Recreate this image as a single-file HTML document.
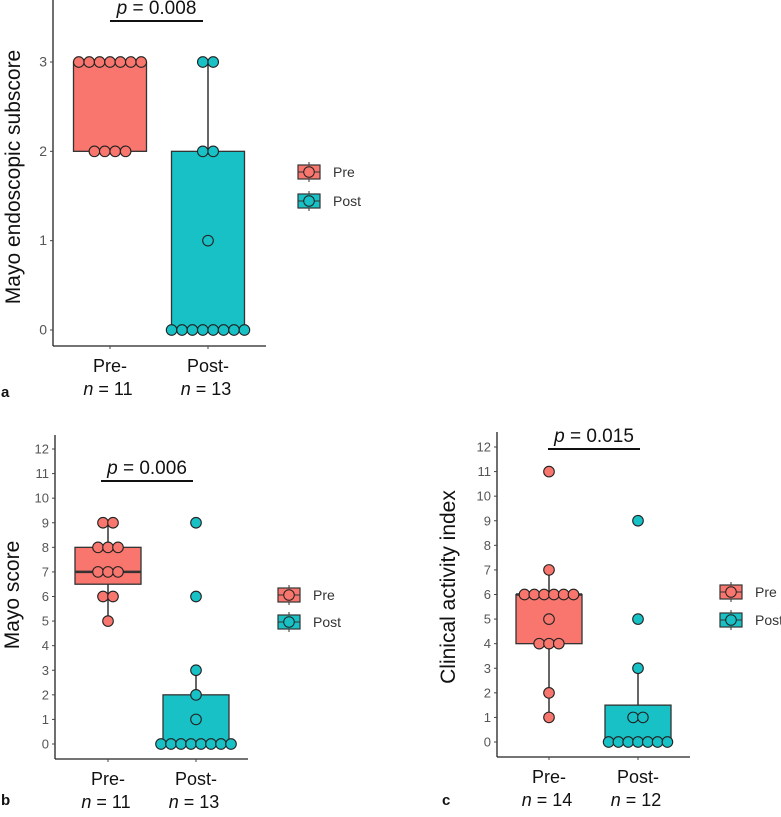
<!DOCTYPE html>
<html><head><meta charset="utf-8"><style>
body{margin:0;background:#fff;width:781px;height:812px;overflow:hidden;font-family:"Liberation Sans",sans-serif}
svg text{font-family:"Liberation Sans",sans-serif}
</style></head><body>
<svg id="s" width="781" height="812" xmlns="http://www.w3.org/2000/svg"></svg>
<script>
// Panel a data
const aTicks=[0,1,2,3];
const aCats=["Pre-","Post-"];
const aN=["n = 11","n = 13"];
const aBoxes=[{lo:2,q1:2,med:3,q3:3,hi:3},{lo:0,q1:0,med:0,q3:2,hi:3}];
const aPre=[[3,7],[2,4]];
const aPost=[[3,2],[2,2],[1,1],[0,8]];
// Panel b data
const bTicks=[0,1,2,3,4,5,6,7,8,9,10,11,12];
const bN=["n = 11","n = 13"];
const bBoxes=[{lo:5,q1:6.5,med:7,q3:8,hi:9},{lo:0,q1:0,med:0,q3:2,hi:3}];
const bPre=[[9,2],[8,3],[7,3],[6,2],[5,1]];
const bPost=[[9,1],[6,1],[3,1],[2,1],[1,1],[0,8]];
// Panel c data
const cTicks=[0,1,2,3,4,5,6,7,8,9,10,11,12];
const cN=["n = 14","n = 12"];
const cBoxes=[{lo:1,q1:4,med:6,q3:6,hi:7},{lo:0,q1:0,med:0,q3:1.5,hi:3}];
const cPre=[[11,1],[7,1],[6,6],[5,1],[4,3],[2,1],[1,1]];
const cPost=[[9,1],[5,1],[3,1],[1,2],[0,7]];

const S=document.getElementById('s');
const NS='http://www.w3.org/2000/svg';
function el(t,a,txt){const e=document.createElementNS(NS,t);for(const k in a)e.setAttribute(k,a[k]);if(txt!==undefined)e.textContent=txt;S.appendChild(e);return e;}
const COL=['#F8766D','#17C1C5'];

function panel(P){
  const y=v=>P.y0+(P.yTop-P.y0)*(v-P.tmin)/(P.tmax-P.tmin);
  const xc=i=>P.cx[i];
  let e;
  e=el('line',{x1:P.ax,y1:P.axTop,x2:P.ax,y2:P.axB,stroke:'#222','stroke-width':1.3});
  
  
  e=el('line',{x1:P.ax,y1:P.axB,x2:P.axR,y2:P.axB,stroke:'#222','stroke-width':1.3});
  
  
  P.ticks.forEach(t=>{
    e=el('line',{x1:P.ax-3,y1:y(t),x2:P.ax,y2:y(t),stroke:'#444','stroke-width':1});
    
    
    e=el('text',{x:P.ax-6,y:y(t)+4.5,'text-anchor':'end','font-size':P.tfs,fill:'#555'},String(t));
    
    
  });
  P.cats.forEach((c,i)=>{
    e=el('line',{x1:xc(i),y1:P.axB,x2:xc(i),y2:P.axB+3,stroke:'#444'});
    
    
    e=el('text',{x:xc(i),y:P.axB+26,'text-anchor':'middle','font-size':18,fill:'#111'},c);
    
    
    e=el('text',{x:xc(i)-2,y:P.axB+49,'text-anchor':'middle','font-size':18,fill:'#111'});
    
    
    e.innerHTML='<tspan font-style="italic">n</tspan>'+P.n[i].slice(1);
  });
  P.boxes.forEach((b,i)=>{
    const hw=P.bw/2;
    e=el('line',{x1:xc(i),y1:y(b.lo),x2:xc(i),y2:y(b.hi),stroke:'#333','stroke-width':1.5});
    
    
    e=el('rect',{x:xc(i)-hw,y:y(b.q3),width:P.bw,height:Math.max(0.5,y(b.q1)-y(b.q3)),fill:COL[i],stroke:'#333','stroke-width':1.3});
    
    
    e=el('line',{x1:xc(i)-hw,y1:y(b.med),x2:xc(i)+hw,y2:y(b.med),stroke:'#333','stroke-width':2.5});
    
    
  });
  [P.pre,P.post].forEach((g,i)=>{
    g.forEach(([v,cnt])=>{
      for(let k=0;k<cnt;k++){
        const dx=(k-(cnt-1)/2)*P.dsp;
        e=el('circle',{cx:xc(i)+dx,cy:y(v),r:5.3,fill:COL[i],stroke:'#222','stroke-width':1.1});
        
        
      }
    });
  });
  e=el('line',{x1:P.px1,y1:P.py,x2:P.px2,y2:P.py,stroke:'#111','stroke-width':2});
  
  
  e=el('text',{x:(P.px1+P.px2)/2,y:P.py-7,'text-anchor':'middle','font-size':19,fill:'#111'});
  
  
  e.innerHTML='<tspan font-style="italic">p</tspan> = '+P.p;
  e=el('text',{x:P.ylx,y:P.yly,'text-anchor':'middle','font-size':P.ylfs,fill:'#111',transform:`rotate(-90 ${P.ylx} ${P.yly})`},P.ylab);
  
  
  ['Pre','Post'].forEach((l,i)=>{
    const cy=P.ly[i];
    e=el('line',{x1:P.lx+11,y1:cy-10,x2:P.lx+11,y2:cy+10,stroke:'#333'});
    
    
    e=el('rect',{x:P.lx,y:cy-7,width:22,height:14,fill:COL[i],stroke:'#333','stroke-width':1.2});
    
    
    e=el('line',{x1:P.lx,y1:cy,x2:P.lx+22,y2:cy,stroke:'#333'});
    e=el('circle',{cx:P.lx+11,cy:cy,r:5.3,fill:COL[i],stroke:'#222'});
    
    
    e=el('text',{x:P.lx+35,y:cy+5,'font-size':14,fill:'#333'},l);
    
    
  });
  e=el('text',{x:P.tagx,y:P.tagy,'font-size':15,'font-weight':'bold',fill:'#111'},P.tag);
  
  
}

panel({ticks:aTicks,tmin:0,tmax:3,y0:330,yTop:62,ax:53,axTop:0,axB:346,axR:266,tfs:14,cats:aCats,n:aN,cx:[110,208],
  boxes:aBoxes,bw:73,pre:aPre,post:aPost,dsp:10.4,px1:110,px2:203,py:21,p:'0.008',
  ylab:'Mayo endoscopic subscore',ylx:20,yly:177,ylfs:21,lx:298,ly:[172,201],tag:'a',tagx:1,tagy:397});
panel({ticks:bTicks,tmin:0,tmax:12,y0:744,yTop:449,ax:55,axTop:435,axB:759,axR:248,tfs:13,cats:aCats,n:bN,cx:[108,196],
  boxes:bBoxes,bw:66,pre:bPre,post:bPost,dsp:10,px1:101,px2:193,py:481,p:'0.006',
  ylab:'Mayo score',ylx:19,yly:595,ylfs:21,lx:278,ly:[595,622],tag:'b',tagx:1,tagy:805});
panel({ticks:cTicks,tmin:0,tmax:12,y0:742,yTop:447,ax:497,axTop:432,axB:757,axR:690,tfs:13,cats:aCats,n:cN,cx:[549,638],
  boxes:cBoxes,bw:66,pre:cPre,post:cPost,dsp:9.8,px1:548,px2:640,py:449,p:'0.015',
  ylab:'Clinical activity index',ylx:455,yly:587,ylfs:21,lx:720,ly:[592,620],tag:'c',tagx:442,tagy:805});
</script>
</body></html>
